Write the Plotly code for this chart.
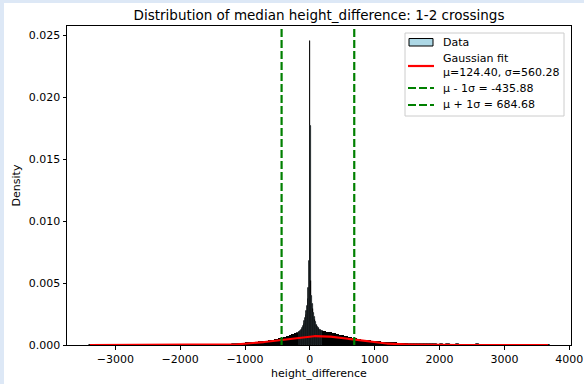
import numpy as np
import plotly.graph_objects as go

# ---------------- data ----------------
title_text = "Distribution of median height_difference: 1-2 crossings"
x_label = "height_difference"
y_label = "Density"

mu = 124.40
sigma = 560.28
data_min = -3392.0
data_max = 3674.0

x_tick_vals = [-3000, -2000, -1000, 0, 1000, 2000, 3000, 4000]
y_tick_vals = [0.000, 0.005, 0.010, 0.015, 0.020, 0.025]

# histogram segments: (left edge, bin width) and density values
left_tail_start, left_tail_width = -3405, 100
left_tail_density = [0.00001, 0, 0, 0.00001, 0, 0, 0.00001, 0, 0.00001, 0, 0.00001, 0.00001,
                     0, 0.00001, 0.00002, 0.00001, 0.00002, 0.00002, 0.00003, 0.00002, 0.00004,
                     0.00004, 0.00005, 0.00007]

left_mid_start, left_mid_width = -1005, 25
left_mid_density = [0.00011, 0.00014, 0.00010, 0.00015, 0.00013, 0.00018, 0.00016, 0.00020,
                    0.00018, 0.00023, 0.00021, 0.00025, 0.00024, 0.00028, 0.00027, 0.00031,
                    0.00031, 0.00035, 0.00035, 0.00040, 0.00040, 0.00045, 0.00046, 0.00051,
                    0.00053, 0.00058, 0.00061, 0.00067, 0.00071, 0.00078, 0.00084, 0.00091]

center_start, center_width = -205, 10
center_density = [0.00095, 0.00098, 0.00100, 0.00103, 0.00106, 0.00109, 0.00113, 0.00118,
                  0.00125, 0.00135, 0.00150, 0.00168, 0.00190, 0.00215, 0.00242, 0.00275,
                  0.00315, 0.00370, 0.00460, 0.00680,
                  0.02455,
                  0.01770, 0.00520, 0.00400, 0.00335, 0.00290, 0.00255, 0.00228, 0.00205,
                  0.00182, 0.00165, 0.00152, 0.00142, 0.00134, 0.00128, 0.00123, 0.00119,
                  0.00116, 0.00113, 0.00110, 0.00108]

right_mid_start, right_mid_width = 205, 25
right_mid_density = [0.00106, 0.00100, 0.00101, 0.00094, 0.00093, 0.00087, 0.00088, 0.00082,
                     0.00081, 0.00075, 0.00074, 0.00069, 0.00067, 0.00062, 0.00061, 0.00056,
                     0.00055, 0.00050, 0.00049, 0.00045, 0.00044, 0.00040, 0.00040, 0.00035,
                     0.00035, 0.00032, 0.00032, 0.00028, 0.00029, 0.00025, 0.00026, 0.00022,
                     0.00023, 0.00020, 0.00021, 0.00018, 0.00019, 0.00016, 0.00017, 0.00014,
                     0.00015, 0.00013, 0.00014, 0.00011, 0.00013, 0.00010, 0.00011, 0.00009,
                     0.00010, 0.00008, 0.00009, 0.00008]

right_tail_start, right_tail_width = 1505, 50
right_tail_density = [0.00008, 0.00007, 0.00008, 0.00006, 0.00007, 0.00005, 0.00006, 0.00005,
                      0.00006, 0.00004, 0.00005, 0.00004, 0.00005, 0.00003, 0.00004, 0.00005,
                      0.00003, 0.00004, 0.00002, 0.00004, 0.00003, 0.00005, 0.00002, 0.00003,
                      0.00004, 0.00002, 0.00003, 0.00002, 0.00003, 0.00002, 0.00002, 0.00003,
                      0.00001, 0.00002, 0.00001, 0.00002, 0.00001, 0, 0.00001, 0, 0, 0, 0.00001,
                      0.00001]

FONT = "DejaVu Sans"
BAR_FILL = "#add8e6"
RED = "#ff0000"
GREEN = "#008000"
DASH = "8px,3px"

segments = [
    (center_start, center_width, center_density, 0.8),
    (left_tail_start, left_tail_width, left_tail_density, 0.8),
    (left_mid_start, left_mid_width, left_mid_density, 2.0),
    (right_mid_start, right_mid_width, right_mid_density, 2.0),
    (right_tail_start, right_tail_width, right_tail_density, 0.8),
]

all_density = []
for _, _, vals, _ in segments:
    all_density.extend(vals)
y_max = max(all_density) * 1.05
span = data_max - data_min
x_range = [data_min - 0.05 * span, data_max + 0.05 * span]

fig = go.Figure()
for start, w, vals, lw in segments:
    n = len(vals)
    centers = start + w * (np.arange(n) + 0.5)
    fig.add_trace(go.Bar(
        x=centers, y=vals, width=[w] * n,
        marker=dict(color=BAR_FILL, line=dict(color="black", width=lw)),
        name="Data", showlegend=False,
    ))

xs = np.linspace(data_min, data_max, 500)
pdf = np.exp(-0.5 * ((xs - mu) / sigma) ** 2) / (sigma * np.sqrt(2 * np.pi))
lo = mu - sigma
hi = mu + sigma

gauss_label = f"Gaussian fit<br>μ={mu:.2f}, σ={sigma:.2f}"
lo_label = f"μ - 1σ = {lo:.2f}"
hi_label = f"μ + 1σ = {hi:.2f}"

fig.add_trace(go.Scatter(x=xs, y=pdf, mode="lines", line=dict(color=RED, width=2.2),
                         name=gauss_label, showlegend=False))
fig.add_trace(go.Scatter(x=[lo, lo], y=[0, y_max], mode="lines",
                         line=dict(color=GREEN, width=2.2, dash=DASH),
                         name=lo_label, showlegend=False))
fig.add_trace(go.Scatter(x=[hi, hi], y=[0, y_max], mode="lines",
                         line=dict(color=GREEN, width=2.2, dash=DASH),
                         name=hi_label, showlegend=False))

# ---------------- layout ----------------
W, H = 584, 384
ml, mr, mt, mb = 67, 13, 26, 39
pw = W - ml - mr
ph = H - mt - mb
BLUE = "#dde8f6"


def px_x(px):
    return (px - ml) / pw


def px_y(py):
    return (H - mb - py) / ph


shapes = [
    dict(type="rect", xref="paper", yref="paper",
         x0=-ml / pw - 0.05, x1=px_x(4), y0=-0.5, y1=1.5,
         fillcolor=BLUE, line=dict(width=0), layer="above"),
    dict(type="rect", xref="paper", yref="paper",
         x0=-0.5, x1=1.5, y0=px_y(3), y1=1.5,
         fillcolor=BLUE, line=dict(width=0), layer="above"),
    # legend box
    dict(type="rect", xref="paper", yref="paper",
         x0=px_x(405), x1=px_x(564), y0=px_y(116), y1=px_y(33),
         fillcolor="white", line=dict(color="#cccccc", width=1), layer="above"),
    # legend handles
    dict(type="rect", xref="paper", yref="paper",
         x0=px_x(409), x1=px_x(433), y0=px_y(46), y1=px_y(38.5),
         fillcolor=BAR_FILL, line=dict(color="black", width=1), layer="above"),
    dict(type="line", xref="paper", yref="paper",
         x0=px_x(408), x1=px_x(434), y0=px_y(66), y1=px_y(66),
         line=dict(color=RED, width=2.2), layer="above"),
    dict(type="line", xref="paper", yref="paper",
         x0=px_x(408), x1=px_x(434), y0=px_y(88), y1=px_y(88),
         line=dict(color=GREEN, width=2.2, dash=DASH), layer="above"),
    dict(type="line", xref="paper", yref="paper",
         x0=px_x(408), x1=px_x(434), y0=px_y(105), y1=px_y(105),
         line=dict(color=GREEN, width=2.2, dash=DASH), layer="above"),
]

legend_texts = [("Data", 42), (gauss_label, 65.5), (lo_label, 88), (hi_label, 105)]
annotations = [
    dict(text=t, xref="paper", yref="paper", x=px_x(441), y=px_y(py),
         xanchor="left", yanchor="middle", align="left", showarrow=False,
         font=dict(family=FONT, size=11, color="black"))
    for t, py in legend_texts
]

fig.update_layout(
    template="none",
    width=W, height=H,
    margin=dict(l=ml, r=mr, t=mt, b=mb, pad=0),
    paper_bgcolor="white",
    plot_bgcolor="white",
    font=dict(family=FONT, size=11, color="black"),
    title=dict(text=title_text, x=0.5, xref="paper", xanchor="center",
               y=1 - 15 / H, yref="container", yanchor="middle",
               font=dict(family=FONT, size=13.5, color="black")),
    showlegend=False,
    barmode="overlay",
    bargap=0,
    shapes=shapes,
    annotations=annotations,
)
fig.update_xaxes(
    range=x_range, tickvals=x_tick_vals, ticks="outside", ticklen=3.5, tickwidth=0.8,
    tickcolor="black", showline=True, linecolor="black", linewidth=1, mirror=True,
    showgrid=False, zeroline=False, automargin=False,
    tickfont=dict(family=FONT, size=11, color="black"),
    title=dict(text=x_label, font=dict(family=FONT, size=11, color="black"), standoff=4),
)
fig.update_yaxes(
    range=[0, y_max], tickvals=y_tick_vals, tickformat=".3f", ticks="outside", ticklen=3.5,
    tickwidth=0.8, tickcolor="black", showline=True, linecolor="black", linewidth=1,
    mirror=True, showgrid=False, zeroline=False, automargin=False,
    tickfont=dict(family=FONT, size=11, color="black"),
    title=dict(text=y_label, font=dict(family=FONT, size=11, color="black"), standoff=5),
)

fig.write_html("out.html", config={"displayModeBar": False},
               post_script="document.body.style.margin='0px';")
